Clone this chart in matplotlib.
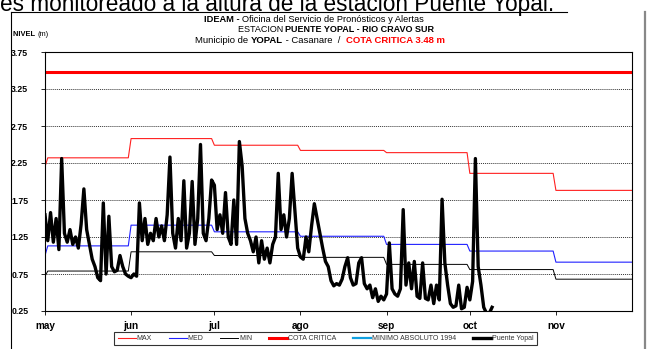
import numpy as np
import matplotlib
matplotlib.use('Agg')
import matplotlib.pyplot as plt
from matplotlib.lines import Line2D

plt.rcParams['font.family'] = ['Liberation Sans', 'DejaVu Sans']

# meses del periodo (dia 0 = 1 de mayo)
meses = ['may', 'jun', 'jul', 'ago', 'sep', 'oct', 'nov']
dias_mes = [31, 30, 31, 31, 30, 31, 30]
inicio_mes = [0, 31, 61, 92, 123, 153, 184]

# valores mensuales historicos (m)
max_abril, med_abril, min_abril = 2.20, 1.00, 0.72
max_mensual = [2.32, 2.58, 2.49, 2.42, 2.39, 2.11, 1.88]
med_mensual = [1.13, 1.41, 1.32, 1.26, 1.15, 1.06, 0.91]
min_mensual = [0.79, 1.05, 1.00, 0.975, 0.88, 0.81, 0.68]
minimo_1994 = [0.15, 0.15, 0.15, 0.15, 0.15, 0.15, 0.15]
cota_critica = 3.48

# nivel diario Puente Yopal (m), 1 may - 9 oct
nivel_may = [1.55, 1.20, 1.58, 1.18, 1.50, 1.08, 2.31, 1.30, 1.18, 1.35, 1.15, 1.25, 1.10, 1.42, 1.90, 1.35,
             1.15, 0.95, 0.85, 0.70, 0.66, 1.71, 0.75, 1.53, 0.85, 0.78, 0.80, 1.00, 0.85, 0.75, 0.72]
nivel_jun = [0.70, 0.75, 0.72, 1.71, 1.20, 1.50, 1.15, 1.30, 1.20, 1.50, 1.25, 1.40, 1.20, 1.55, 2.33,
             1.30, 1.10, 1.50, 1.20, 2.01, 1.10, 1.30, 2.00, 1.15, 1.50, 2.50, 1.30, 1.20, 1.50, 2.02]
nivel_jul = [1.95, 1.35, 1.55, 1.30, 1.85, 1.25, 1.15, 1.75, 1.15, 2.54, 2.21, 1.50, 1.30, 1.20, 1.05, 1.25,
             0.90, 1.20, 0.95, 1.10, 0.90, 1.15, 1.25, 2.11, 1.35, 1.55, 1.25, 1.50, 2.11, 1.60, 1.10]
nivel_ago = [0.98, 0.95, 1.25, 1.05, 1.40, 1.70, 1.50, 1.30, 1.10, 0.92, 0.85, 0.66, 0.59, 0.62, 0.60, 0.68,
             0.85, 0.97, 0.70, 0.60, 0.62, 0.90, 0.97, 0.62, 0.55, 0.60, 0.43, 0.55, 0.38, 0.45, 0.40]
nivel_sep_oct = [0.48, 1.17, 0.55, 0.48, 0.45, 0.55, 1.62, 0.60, 0.90, 0.55, 0.92, 0.45, 0.42, 0.90, 0.42,
                 0.40, 0.60, 0.35, 0.60, 0.40, 1.76, 0.90, 0.60, 0.35, 0.30, 0.32, 0.60, 0.28, 0.30, 0.57,
                 0.40, 0.65, 2.31, 0.85, 0.60, 0.30, 0.22, 0.22, 0.30]

nivel = np.array(nivel_may + nivel_jun + nivel_jul + nivel_ago + nivel_sep_oct)
dias = np.arange(len(nivel))


def diario(mensual, abril):
    v = np.repeat(mensual, dias_mes).astype(float)
    v[0] = abril
    return v


serie_max = diario(max_mensual, max_abril)
serie_med = diario(med_mensual, med_abril)
serie_min = diario(min_mensual, min_abril)
serie_1994 = diario(minimo_1994, minimo_1994[0])
dias_hist = np.arange(len(serie_max))

W, H = 648, 349
fig = plt.figure(figsize=(W / 100, H / 100), dpi=100)
ax = fig.add_axes([45 / W, 1 - 311 / H, (632 - 45) / W, (311 - 52) / H])

ax.plot(dias_hist, serie_max, color='#ff2020', lw=0.8, label='MAX')
ax.plot(dias_hist, serie_med, color='#2020ff', lw=0.8, label='MED')
ax.plot(dias_hist, serie_min, color='black', lw=0.7, label='MIN')
ax.plot(dias_hist, np.full(len(dias_hist), cota_critica), color='#ff0000', lw=2.2, label='COTA CRITICA')
ax.plot(dias_hist, serie_1994, color='#10a0e0', lw=1.6, label='MINIMO ABSOLUTO 1994')
ax.plot(dias, nivel, color='black', lw=2.4, label='Puente Yopal', zorder=5)

ax.set_xlim(0, 211.4)
ax.set_ylim(0.25, 3.75)
yt = np.arange(0.25, 3.76, 0.5)
ax.set_yticks(yt)
ax.set_yticklabels(['%.2f' % v for v in yt], fontweight='bold', fontsize=6.3)
ax.set_xticks(inicio_mes)
ax.set_xticklabels(meses, fontweight='bold', fontsize=7.2)
ax.tick_params(axis='y', direction='out', length=3, width=0.6, pad=9)
ax.tick_params(axis='x', direction='out', length=3, width=0.6, pad=4)
ax.grid(axis='y', color='#333333', linestyle=(0, (1, 1)), lw=0.7)
for s in ax.spines.values():
    s.set_linewidth(0.8)

leg = ax.legend(loc='center', bbox_to_anchor=((112 + 539) / 2 / W, 1 - 338.5 / H),
                bbox_transform=fig.transFigure, ncol=6, fontsize=5, frameon=True, fancybox=False,
                edgecolor='black', handlelength=2.6, handletextpad=0.1, columnspacing=2.45,
                borderpad=0.5, borderaxespad=0)
leg.get_frame().set_linewidth(0.8)
for t in leg.get_texts():
    t.set_color('#333333')

# marco del grafico
fig.add_artist(Line2D([11 / W, 567 / W], [1 - 12 / H, 1 - 12 / H], color='black', lw=0.8))
fig.add_artist(Line2D([11 / W, 11 / W], [1 - 12 / H, 0], color='black', lw=0.8))
fig.add_artist(Line2D([645 / W, 645 / W], [1 - 12 / H, 0], color='#888888', lw=1.6))

# texto del documento, cortado arriba
fig.text(0, 1 - 10.5 / H, 'es monitoreado a la altura de la estación Puente Yopal.', fontsize=16.3,
         va='baseline', ha='left')

renderer = fig.canvas.get_renderer()


def texto_mixto(partes, x_px, y_px, size, centrar=True):
    objs = [fig.text(0, 1 - y_px / H, t, fontsize=size, fontweight=w, color=c, va='baseline', ha='left')
            for t, w, c in partes]
    anchos = [o.get_window_extent(renderer).width for o in objs]
    x = x_px - sum(anchos) / 2 if centrar else x_px
    for o, a in zip(objs, anchos):
        o.set_x(x / W)
        x += a


texto_mixto([('IDEAM - ', 'bold', 'black'),
             ('Oficina del Servicio de Pronósticos y Alertas', 'normal', 'black')], 314, 21.5, 6.7)
texto_mixto([('ESTACION ', 'normal', 'black'),
             ('PUENTE YOPAL - RIO CRAVO SUR', 'bold', 'black')], 336, 32, 6.5)
texto_mixto([('Municipio de ', 'normal', 'black'), ('YOPAL', 'bold', 'black'),
             (' - Casanare  /  ', 'normal', 'black'), ('COTA CRITICA 3.48 m', 'bold', '#ff0000')],
            320, 43, 6.8)
texto_mixto([('NIVEL ', 'bold', 'black'), ('(m)', 'normal', 'black')], 13, 35.5, 5.4, centrar=False)

fig.savefig('out.png', dpi=100)
